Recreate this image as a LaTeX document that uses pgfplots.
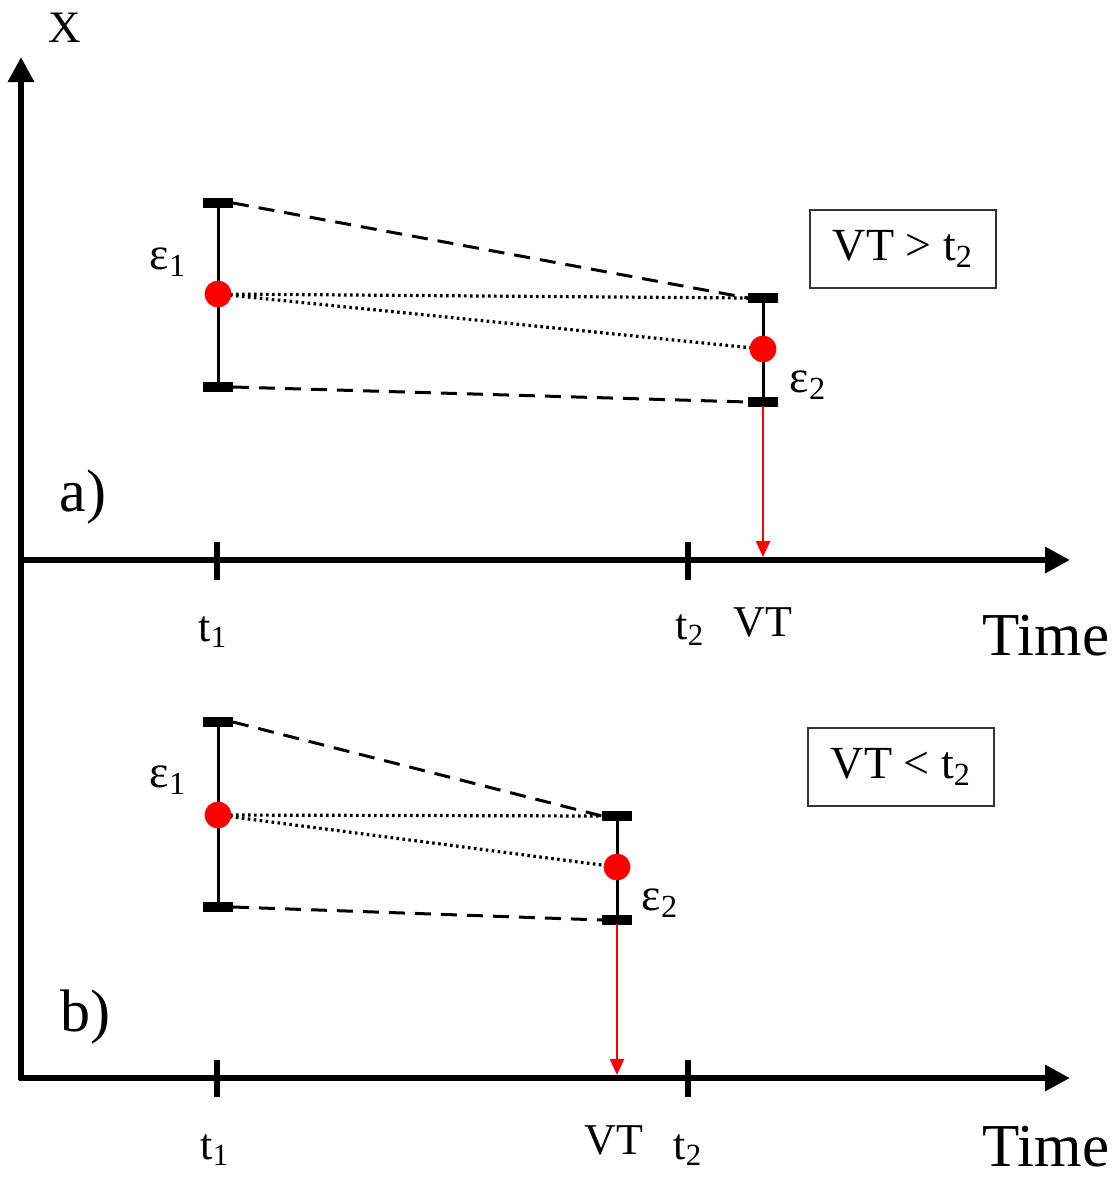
\documentclass[border=0pt]{standalone}
\usepackage{pgfplots}
\pgfplotsset{compat=1.18}
\usepackage{fontspec}
\setmainfont{Liberation Serif}
\usetikzlibrary{arrows.meta}
\newcommand\fs[1]{\fontsize{#1}{#1}\selectfont}
\begin{document}
\begin{tikzpicture}
\begin{axis}[
  name=ax,
  width=560pt, height=590pt, scale only axis,
  xmin=0, xmax=1120, ymin=0, ymax=1180, y dir=reverse,
  axis lines=none, ticks=none, clip=false,
  every node/.append style={inner sep=0pt},
  dsh/.style={black, line width=1.5pt, dash pattern=on 8pt off 5pt},
  dtt/.style={black, line width=1.6pt, dash pattern=on 1.3pt off 1.7pt},
  bar/.style={black, line width=1.5pt},
  cap/.style={black, line width=5pt},
  ax/.style={black, line width=3.2pt, -{Triangle[length=12.5pt,width=12.5pt]}},
  tk/.style={black, line width=3.2pt},
  red arrow/.style={red, line width=1.2pt, -{Triangle[length=8pt,width=7pt]}},
  dot/.style={only marks, mark=*, mark size=6.5pt, red, mark options={draw=red, fill=red}},
]
% ---------- axes ----------
\addplot[ax] coordinates {(21,1080) (21,57)};
\addplot[ax] coordinates {(19,560) (1070,560)};
\addplot[ax] coordinates {(19,1078) (1070,1078)};
\addplot[tk] coordinates {(217,542) (217,580)};
\addplot[tk] coordinates {(688,542) (688,580)};
\addplot[tk] coordinates {(217,1060) (217,1097)};
\addplot[tk] coordinates {(688,1060) (688,1097)};
% ---------- panel a ----------
\addplot[dsh] coordinates {(233,203) (748,298)};
\addplot[dsh] coordinates {(233,387) (748,402)};
\addplot[dtt] coordinates {(218,294) (748,298)};
\addplot[dtt] coordinates {(218,294) (763,349)};
\addplot[bar] coordinates {(218,203) (218,387)};
\addplot[cap] coordinates {(203,203) (233,203)};
\addplot[cap] coordinates {(203,387) (233,387)};
\addplot[bar] coordinates {(763,298) (763,402)};
\addplot[cap] coordinates {(748,298) (778,298)};
\addplot[cap] coordinates {(748,402) (778,402)};
\addplot[red arrow] coordinates {(763,406) (763,557)};
\addplot[dot] coordinates {(218,294) (763,349)};
% ---------- panel b ----------
\addplot[dsh] coordinates {(233,722) (602,816)};
\addplot[dsh] coordinates {(233,907) (602,920)};
\addplot[dtt] coordinates {(218,815) (602,816)};
\addplot[dtt] coordinates {(218,815) (617,867)};
\addplot[bar] coordinates {(218,722) (218,907)};
\addplot[cap] coordinates {(203,722) (233,722)};
\addplot[cap] coordinates {(203,907) (233,907)};
\addplot[bar] coordinates {(617,816) (617,920)};
\addplot[cap] coordinates {(602,816) (632,816)};
\addplot[cap] coordinates {(602,920) (632,920)};
\addplot[red arrow] coordinates {(617,924) (617,1075)};
\addplot[dot] coordinates {(218,815) (617,867)};
% ---------- texts ----------
\node[font=\fs{22.5}] at (axis cs:65,28) {X};
\node[font=\fs{23}] at (axis cs:168,262) {ε\textsubscript{1}};
\node[font=\fs{23}] at (axis cs:808,385) {ε\textsubscript{2}};
\node[draw=black!80, line width=1pt, minimum width=93pt, minimum height=39pt, font=\fs{23}] at (axis cs:903,249) {VT > t\textsubscript{2}};
\node[font=\fs{30}] at (axis cs:83,497) {a)};
\node[font=\fs{22}] at (axis cs:213,632) {t\textsubscript{1}};
\node[font=\fs{22}] at (axis cs:690,630) {t\textsubscript{2}};
\node[font=\fs{22}] at (axis cs:763,622) {VT};
\node[font=\fs{30.5}] at (axis cs:1046,636) {Time};
\node[font=\fs{23}] at (axis cs:168,780) {ε\textsubscript{1}};
\node[font=\fs{23}] at (axis cs:660,903) {ε\textsubscript{2}};
\node[draw=black!80, line width=1pt, minimum width=93pt, minimum height=39pt, font=\fs{23}] at (axis cs:901,767) {VT < t\textsubscript{2}};
\node[font=\fs{30}] at (axis cs:85,1017) {b)};
\node[font=\fs{22}] at (axis cs:215,1150) {t\textsubscript{1}};
\node[font=\fs{22}] at (axis cs:614,1140) {VT};
\node[font=\fs{22}] at (axis cs:688,1150) {t\textsubscript{2}};
\node[font=\fs{30.5}] at (axis cs:1046,1147) {Time};
\end{axis}
\pgfresetboundingbox
\path[use as bounding box] (ax.south west) rectangle (ax.north east);
\end{tikzpicture}
\end{document}
